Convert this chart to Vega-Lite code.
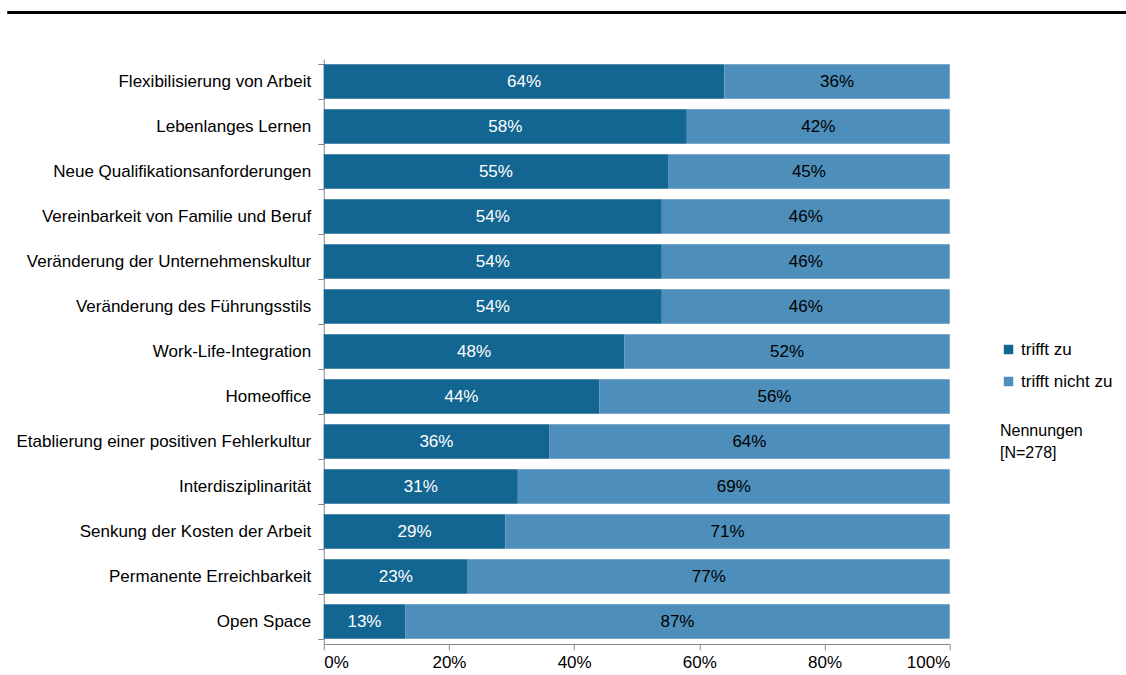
{
  "$schema": "https://vega.github.io/schema/vega-lite/v6.json",
  "padding": {"left": 5, "top": 11, "right": 0, "bottom": 0},
  "background": "white",
  "config": {"view": {"stroke": null}, "font": "Liberation Sans"},
  "center": true,
  "bounds": "full",
  "spacing": 36,
  "vconcat": [
    {
      "width": 1258,
      "height": 1,
      "data": {"values": [{"a": 0, "b": 1}]},
      "mark": {"type": "rule", "color": "black", "strokeWidth": 3},
      "encoding": {
        "x": {"field": "a", "type": "quantitative", "scale": {"domain": [0, 1]}, "axis": null},
        "x2": {"field": "b"}
      }
    },
    {
      "width": 626,
      "height": 585,
      "data": {"values": [
        {"Kategorie": "Flexibilisierung von Arbeit", "Antwort": "trifft zu", "Anteil": 0.64},
        {"Kategorie": "Flexibilisierung von Arbeit", "Antwort": "trifft nicht zu", "Anteil": 0.36},
        {"Kategorie": "Lebenlanges Lernen", "Antwort": "trifft zu", "Anteil": 0.58},
        {"Kategorie": "Lebenlanges Lernen", "Antwort": "trifft nicht zu", "Anteil": 0.42},
        {"Kategorie": "Neue Qualifikationsanforderungen", "Antwort": "trifft zu", "Anteil": 0.55},
        {"Kategorie": "Neue Qualifikationsanforderungen", "Antwort": "trifft nicht zu", "Anteil": 0.45},
        {"Kategorie": "Vereinbarkeit von Familie und Beruf", "Antwort": "trifft zu", "Anteil": 0.54},
        {"Kategorie": "Vereinbarkeit von Familie und Beruf", "Antwort": "trifft nicht zu", "Anteil": 0.46},
        {"Kategorie": "Veränderung der Unternehmenskultur", "Antwort": "trifft zu", "Anteil": 0.54},
        {"Kategorie": "Veränderung der Unternehmenskultur", "Antwort": "trifft nicht zu", "Anteil": 0.46},
        {"Kategorie": "Veränderung des Führungsstils", "Antwort": "trifft zu", "Anteil": 0.54},
        {"Kategorie": "Veränderung des Führungsstils", "Antwort": "trifft nicht zu", "Anteil": 0.46},
        {"Kategorie": "Work-Life-Integration", "Antwort": "trifft zu", "Anteil": 0.48},
        {"Kategorie": "Work-Life-Integration", "Antwort": "trifft nicht zu", "Anteil": 0.52},
        {"Kategorie": "Homeoffice", "Antwort": "trifft zu", "Anteil": 0.44},
        {"Kategorie": "Homeoffice", "Antwort": "trifft nicht zu", "Anteil": 0.56},
        {"Kategorie": "Etablierung einer positiven Fehlerkultur", "Antwort": "trifft zu", "Anteil": 0.36},
        {"Kategorie": "Etablierung einer positiven Fehlerkultur", "Antwort": "trifft nicht zu", "Anteil": 0.64},
        {"Kategorie": "Interdisziplinarität", "Antwort": "trifft zu", "Anteil": 0.31},
        {"Kategorie": "Interdisziplinarität", "Antwort": "trifft nicht zu", "Anteil": 0.69},
        {"Kategorie": "Senkung der Kosten der Arbeit", "Antwort": "trifft zu", "Anteil": 0.29},
        {"Kategorie": "Senkung der Kosten der Arbeit", "Antwort": "trifft nicht zu", "Anteil": 0.71},
        {"Kategorie": "Permanente Erreichbarkeit", "Antwort": "trifft zu", "Anteil": 0.23},
        {"Kategorie": "Permanente Erreichbarkeit", "Antwort": "trifft nicht zu", "Anteil": 0.77},
        {"Kategorie": "Open Space", "Antwort": "trifft zu", "Anteil": 0.13},
        {"Kategorie": "Open Space", "Antwort": "trifft nicht zu", "Anteil": 0.87}
      ]},
      "encoding": {
        "y": {
          "field": "Kategorie",
          "type": "nominal",
          "sort": null,
          "scale": {"paddingInner": 0.23, "paddingOuter": 0.115},
          "axis": {
            "title": null,
            "tickBand": "extent",
            "domainColor": "#888888",
            "tickColor": "#888888",
            "tickSize": 6,
            "labelPadding": 7,
            "labelFontSize": 17,
            "labelColor": "#000000",
            "labelLimit": 400
          }
        }
      },
      "layer": [
        {
          "mark": {"type": "bar"},
          "encoding": {
            "x": {
              "field": "Anteil",
              "type": "quantitative",
              "stack": "zero",
              "scale": {"domain": [0, 1]},
              "axis": {
                "title": null,
                "values": [0, 0.2, 0.4, 0.6, 0.8, 1],
                "format": ".0%",
                "grid": false,
                "domainColor": "#888888",
                "tickColor": "#888888",
                "tickSize": 6,
                "labelPadding": 4,
                "labelFontSize": 17,
                "labelColor": "#000000"
              }
            },
            "color": {
              "field": "Antwort",
              "type": "nominal",
              "scale": {"domain": ["trifft zu", "trifft nicht zu"], "range": ["#136692", "#4D8EBA"]},
              "legend": {
                "orient": "none",
                "legendX": 993,
                "legendY": 329,
                "title": ["Nennungen", "[N=278]"],
                "titleOrient": "bottom",
                "titleFontSize": 16,
                "titleFontWeight": "normal",
                "titleColor": "#000000",
                "titlePadding": 33,
                "titleLineHeight": 22,
                "labelFontSize": 17,
                "labelColor": "#000000",
                "labelOffset": 4,
                "symbolType": "square",
                "symbolSize": 90,
                "symbolStrokeWidth": 0,
                "rowPadding": 14,
                "padding": 0
              }
            },
            "order": {"field": "Antwort", "sort": "descending"}
          }
        },
        {
          "mark": {"type": "text", "fontSize": 17, "align": "center", "baseline": "middle"},
          "encoding": {
            "x": {"field": "Anteil", "type": "quantitative", "stack": "zero", "bandPosition": 0.5},
            "text": {"field": "Anteil", "type": "quantitative", "format": ".0%"},
            "color": {"condition": {"test": "datum.Antwort === 'trifft zu'", "value": "#ffffff"}, "value": "#000000"},
            "order": {"field": "Antwort", "sort": "descending"}
          }
        }
      ]
    }
  ]
}
